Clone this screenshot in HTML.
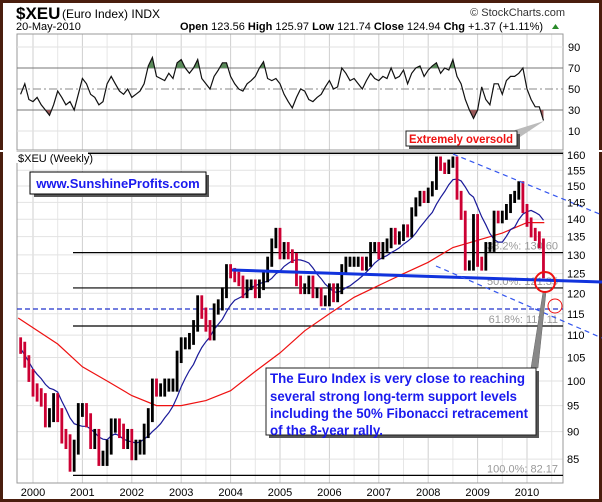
<!DOCTYPE html>
<html><head><meta charset="utf-8"><style>
html,body{margin:0;padding:0;background:#fff}
svg{display:block;font-family:"Liberation Sans",Arial,sans-serif}
</style></head><body>
<svg id="chart" width="602" height="502" viewBox="0 0 602 502" xmlns="http://www.w3.org/2000/svg">
<defs>
<clipPath id="mainClip"><rect x="17" y="152" width="546" height="331"/></clipPath>
<clipPath id="ob"><rect x="17" y="34" width="546" height="34"/></clipPath>
<clipPath id="os"><rect x="17" y="110" width="546" height="40"/></clipPath>
</defs>
<rect x="0" y="0" width="602" height="502" fill="#fff"/>
<rect x="1.5" y="1.5" width="599" height="499" fill="none" stroke="#4a1e0e" stroke-width="3"/>
<g>
<text x="16" y="19" font-size="17" font-weight="bold">$XEU</text>
<text x="62" y="18" font-size="12">(Euro Index) INDX</text>
<text x="16" y="30" font-size="11">20-May-2010</text>
<text x="565" y="16" font-size="11" text-anchor="end" fill="#333">© StockCharts.com</text>
<text x="180" y="30" font-size="11"><tspan font-weight="bold">Open</tspan> 123.56 <tspan font-weight="bold">High</tspan> 125.97 <tspan font-weight="bold">Low</tspan> 121.74 <tspan font-weight="bold">Close</tspan> 124.94 <tspan font-weight="bold">Chg</tspan> +1.37 (+1.11%)</text>
<polygon points="552,29 559,29 555.5,24" fill="#2a8a2a"/>
</g>
<g id="grid"></g>
<rect x="17" y="34" width="546" height="116" fill="none" stroke="#999"/>
<rect x="17" y="152" width="546" height="331" fill="none" stroke="#999"/>
<g id="rsi"></g>
<g id="main"></g>
<g id="axes"></g>
<g id="annot"></g>
</svg>
<script>
const NS="http://www.w3.org/2000/svg";
const startT=1999.75;
const closes=[107,104,101,
98,97,96,92,93,96,93,89,88,84,87,94,
94,92,88,89,85,85,87,91,91,90,88,89,
86,87,87,90,93,99,98,98,99,99,99,105,
108,108,109,112,118,115,112,110,116,117,120,126,
125,124,123,120,122,122,120,122,124,128,133,136,
130,132,130,129,123,121,121,123,120,120,118,118,
121,119,121,126,128,128,128,128,127,128,132,132,
130,132,133,136,134,135,137,136,142,145,147,146,
148,150,158,156,155,157,158,147,141,127,127,140,
128,127,132,132,141,140,141,143,146,147,150,143,
139,136,135,133,125];
const rsiVals=[45,55,40,
38,42,35,30,25,35,48,42,35,38,30,45,
60,55,45,42,35,38,55,62,55,48,45,50,
42,45,48,55,72,80,62,60,58,65,60,75,
78,70,65,70,78,60,55,50,62,68,75,75,
62,55,50,48,55,58,62,70,76,60,58,60,
55,45,38,32,42,50,48,40,38,42,45,52,
58,50,52,70,65,58,60,55,50,58,65,60,
58,62,60,70,60,62,68,55,65,70,72,62,
68,72,75,65,70,68,78,62,55,40,30,22,
30,52,40,35,55,55,45,58,62,62,65,70,
50,40,33,33,20];
const longMaT=[1999.7,2000.5,2001,2001.5,2002,2002.5,2003,2003.5,2004,2004.5,2005,2005.5,2006,2006.5,2007,2007.5,2008,2008.5,2009,2009.5,2010,2010.35];
const longMaV=[114,108,103,100,97,95,95,96,98,102,106,111,115,119,122,125,128,132,134,136,139,139];
const years=[2000,2001,2002,2003,2004,2005,2006,2007,2008,2009,2010];
const priceTicks=[160,155,150,145,140,135,130,125,120,115,110,105,100,95,90,85];
const rsiTicks=[90,70,50,30,10];
const fibValues=[160.53,130.60,121.35,112.11,82.17];
const fibLabels=["0.0%: 160.53","38.2%: 130.60","50.0%: 121.35","61.8%: 112.11","100.0%: 82.17"];

function X(t){return 33+(t-2000)*49.4;}
function Y(p){return 155+(Math.log10(160)-Math.log10(p))*1107;}
function R(v){return 89+(50-v)*1.05;}
function tAt(i){return startT+i/12;}
function mk(tag,attrs,parent){const e=document.createElementNS(NS,tag);for(const k in attrs)e.setAttribute(k,attrs[k]);parent.appendChild(e);return e;}

const grid=document.getElementById('grid');
years.forEach(y=>{
  let l=mk('line',{x1:X(y),x2:X(y),y1:34,y2:483,stroke:'#cfcfcf'},grid);
  
  
  let h=mk('line',{x1:X(y+0.5),x2:X(y+0.5),y1:34,y2:483,stroke:'#e6e6e6'},grid);
  
  
});
mk('rect',{x:0,y:150,width:602,height:2,fill:'#fff'},grid);
priceTicks.forEach(p=>{
  let l=mk('line',{x1:17,x2:563,y1:Y(p),y2:Y(p),stroke:'#e2e2e2'},grid);
  
  
});

const axes=document.getElementById('axes');
years.forEach(y=>{
  let t=mk('text',{x:X(y),y:496,'font-size':11,'text-anchor':'middle'},axes);
  t.textContent=y;
  
  
});
priceTicks.forEach(p=>{
  let t=mk('text',{x:567,y:Y(p)+4,'font-size':11},axes);
  t.textContent=p;
  
  
});
rsiTicks.forEach(v=>{
  let t=mk('text',{x:568,y:R(v)+4,'font-size':11},axes);
  t.textContent=v;
  
  
});

const rsi=document.getElementById('rsi');
[90,10].forEach(v=>{mk('line',{x1:17,x2:563,y1:R(v),y2:R(v),stroke:'#e2e2e2'},rsi);});
[70,30].forEach(v=>{let l=mk('line',{x1:17,x2:563,y1:R(v),y2:R(v),stroke:'#777'},rsi);
 
 });
let mid=mk('line',{x1:17,x2:563,y1:R(50),y2:R(50),stroke:'#888','stroke-dasharray':'8,3,2,3'},rsi);


const rpts=rsiVals.map((v,i)=>[X(tAt(i)),R(v)]);
const rstr=rpts.map(p=>p[0].toFixed(1)+','+p[1].toFixed(1)).join(' ');
let fo=mk('polygon',{points:rstr+` ${rpts[rpts.length-1][0]},${R(70)} ${rpts[0][0]},${R(70)}`,fill:'#5a8a5a','clip-path':'url(#ob)'},rsi);


let fs=mk('polygon',{points:rstr+` ${rpts[rpts.length-1][0]},${R(30)} ${rpts[0][0]},${R(30)}`,fill:'#9a5a5a','clip-path':'url(#os)'},rsi);


let rl=mk('polyline',{points:rstr,fill:'none',stroke:'#111','stroke-width':1.2},rsi);



const main=document.getElementById('main');
const g=mk('g',{'clip-path':'url(#mainClip)'},main);
fibValues.forEach((v,i)=>{
  let l=mk('line',{x1:73,x2:563,y1:Y(v),y2:Y(v),stroke:'#000','stroke-width':1.2},g);
  
  
  let t=mk('text',{x:558,y:Y(v)-3,'font-size':11,'text-anchor':'end',fill:'#999'},g);
  t.textContent=fibLabels[i];
  
  
});
let dh=mk('line',{x1:17,x2:563,y1:309,y2:309,stroke:'#2233cc','stroke-dasharray':'5,3','stroke-width':1.2},g);


let lm=mk('polyline',{points:longMaT.map((t,i)=>X(t).toFixed(1)+','+Y(longMaV[i]).toFixed(1)).join(' '),fill:'none',stroke:'#ee1111','stroke-width':1.2},g);


const sma=closes.map((c,i)=>{const s=closes.slice(Math.max(0,i-9),i+1);return s.reduce((a,b)=>a+b,0)/s.length;});
let sm=mk('polyline',{points:sma.map((v,i)=>X(tAt(i)).toFixed(1)+','+Y(v).toFixed(1)).join(' '),fill:'none',stroke:'#1a1a99','stroke-width':1.2},g);


closes.forEach((c,i)=>{
  const prev=i>0?closes[i-1]:c+1;
  const hi=Math.max(prev,c)+1.5, lo=Math.min(prev,c)-1.2;
  const x=X(tAt(i));
  const col=c<prev?'#cc0033':'#000';
  let b=mk('rect',{x:x-1.4,y:Y(hi),width:2.8,height:Y(lo)-Y(hi),fill:col},g);
  
  
});
let tl=mk('line',{x1:232,y1:270,x2:602,y2:282,stroke:'#1133dd','stroke-width':3},main);


let cu=mk('line',{x1:453,y1:154,x2:602,y2:215,stroke:'#3355ee','stroke-dasharray':'5,4','stroke-width':1.2},main);


let cl=mk('line',{x1:436,y1:266,x2:602,y2:338,stroke:'#3355ee','stroke-dasharray':'5,4','stroke-width':1.2},main);


</script>
<script>
(function(){
const a=document.getElementById('annot');
a.innerHTML=`
<rect x="16" y="152" width="72" height="11" fill="#fff"/>
<text x="18" y="162" font-size="11">$XEU (Weekly)</text>
<polygon points="531,368 538,368 546,292 543,292" fill="#888" stroke="#666" stroke-width="0.5"/>
<circle cx="545" cy="282" r="10" fill="none" stroke="#ee1111" stroke-width="2"/>
<circle cx="555" cy="306" r="7" fill="none" stroke="#ee1111" stroke-width="1"/>
<rect x="34" y="175" width="175" height="22" fill="#555"/>
<rect x="30" y="172" width="176" height="22" fill="#fff" stroke="#000"/>
<text x="118" y="188" font-size="13" font-weight="bold" fill="#1a1aee" text-anchor="middle">www.SunshineProfits.com</text>
<rect x="269" y="371" width="270" height="67" fill="#555"/>
<rect x="266" y="368" width="270" height="67" fill="#fff" stroke="#222"/>
<g font-size="13.5" font-weight="bold" fill="#1a1aee">
<text x="270" y="383" textLength="255" lengthAdjust="spacingAndGlyphs">The Euro Index is very close to reaching</text>
<text x="270" y="401" textLength="247" lengthAdjust="spacingAndGlyphs">several strong long-term support levels</text>
<text x="270" y="418" textLength="258" lengthAdjust="spacingAndGlyphs">including the 50% Fibonacci retracement</text>
<text x="270" y="435" textLength="113" lengthAdjust="spacingAndGlyphs">of the 8-year rally.</text>
</g>
<polygon points="512,133 520,137 544,121 515,130" fill="#bbb"/>
<rect x="409" y="134" width="111" height="15" fill="#555"/>
<rect x="406" y="131" width="111" height="15" fill="#fff" stroke="#222"/>
<text x="461" y="143" font-size="11.5" font-weight="bold" fill="#ee1111" text-anchor="middle" textLength="104" lengthAdjust="spacingAndGlyphs">Extremely oversold</text>`;
})();
</script>
</body></html>
